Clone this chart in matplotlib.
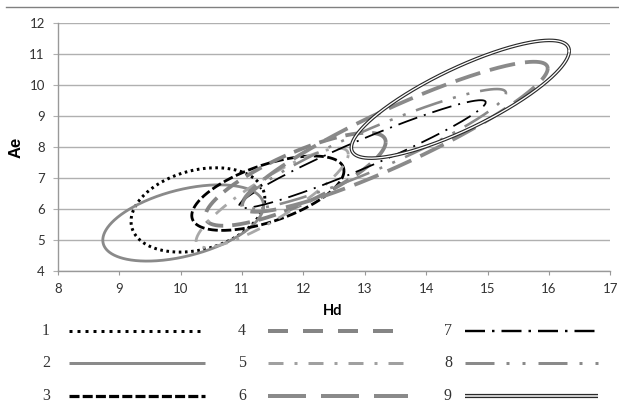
import numpy as np
import matplotlib
matplotlib.use('Agg')
import matplotlib.pyplot as plt
from matplotlib.lines import Line2D

plt.rcParams['lines.scale_dashes'] = False
plt.rcParams['font.family'] = ['Lato', 'DejaVu Sans']

# ellipse parameters: centre (Hd, Ae), half ranges and correlation
grupos = ['1', '2', '3', '4', '5', '6', '7', '8', '9']
centro_hd = [10.28, 10.04, 11.42, 11.87, 11.49, 13.49, 12.96, 13.15, 14.555]
centro_ae = [5.96, 5.54, 6.50, 6.95, 6.35, 8.32, 7.76, 7.93, 9.53]
rango_hd = [1.09, 1.31, 1.24, 1.47, 1.24, 2.49, 2.01, 2.15, 1.775]
rango_ae = [1.36, 1.23, 1.20, 1.50, 1.60, 2.42, 1.74, 1.93, 1.90]
correlacion = [0.27, 0.45, 0.60, 0.80, 0.875, 0.91, 0.96, 0.93, 0.82]

ticks_x = [8, 9, 10, 11, 12, 13, 14, 15, 16, 17]
ticks_y = [4, 5, 6, 7, 8, 9, 10, 11, 12]

PX = 0.72  # pixels -> points at 100 dpi


def d(*px):
    return (0, tuple(v * PX for v in px))


# line styles for each group (colour, width px, dash pattern px)
estilos = [
    dict(color='black', lw=3.0, ls=d(2.6, 3.6)),
    dict(color='#8a8a8a', lw=2.8, ls='-'),
    dict(color='black', lw=2.8, ls=d(10, 3.5)),
    dict(color='#858585', lw=3.8, ls=d(18, 9)),
    dict(color='#a8a8a8', lw=2.8, ls=d(14, 9, 3, 9)),
    dict(color='#8a8a8a', lw=3.8, ls=d(26, 10)),
    dict(color='black', lw=1.8, ls=d(20, 7, 2, 7)),
    dict(color='#8a8a8a', lw=2.6, ls=d(28, 11, 3, 11, 3, 11)),
    None,
]
estilos_leyenda = [
    dict(color='black', lw=3.0, ls=d(3.0, 5.0)),
    dict(color='#8a8a8a', lw=3.0, ls='-'),
    dict(color='black', lw=3.2, ls=d(10, 3.2)),
    dict(color='#858585', lw=4.0, ls=d(20, 15)),
    dict(color='#a0a0a0', lw=3.0, ls=d(15, 11, 3, 11)),
    dict(color='#8a8a8a', lw=4.0, ls=d(38, 15)),
    dict(color='black', lw=2.4, ls=d(20, 7, 2.5, 7)),
    dict(color='#8a8a8a', lw=3.0, ls=d(29, 12, 3, 13, 3, 13)),
    None,
]


def px_a_frac(x0, y0, x1, y1):
    return [x0 / 619, 1 - y1 / 404, (x1 - x0) / 619, (y1 - y0) / 404]


fig = plt.figure(figsize=(6.19, 4.04), dpi=100)
ax = fig.add_axes(px_a_frac(58, 22.7, 610.3, 270.7))

t = np.linspace(0, 2 * np.pi, 600)
for i in range(len(grupos)):
    r = correlacion[i]
    x = centro_hd[i] + rango_hd[i] * np.cos(t)
    y = centro_ae[i] + rango_ae[i] * (r * np.cos(t) + np.sqrt(1 - r * r) * np.sin(t))
    if estilos[i] is None:
        # double line
        ax.plot(x, y, color='#2a2a2a', lw=3.6 * PX, solid_capstyle='butt', zorder=5)
        ax.plot(x, y, color='white', lw=1.3 * PX, zorder=6)
    else:
        e = estilos[i]
        ax.plot(x, y, color=e['color'], lw=e['lw'] * PX, linestyle=e['ls'],
                dash_capstyle='butt', zorder=3 + i * 0.1)

ax.set_xlim(8, 17)
ax.set_ylim(4, 12)
ax.set_xticks(ticks_x)
ax.set_yticks(ticks_y)
ax.grid(axis='y', color='#b0b0b0', lw=1.0)
ax.set_axisbelow(True)
for s in ['top', 'right']:
    ax.spines[s].set_visible(False)
for s in ['left', 'bottom']:
    ax.spines[s].set_color('#999999')
    ax.spines[s].set_linewidth(1.0)
ax.tick_params(axis='x', direction='out', length=3, width=0.8, color='#999999',
               pad=5.5, labelsize=9.5, labelcolor='#333333')
ax.tick_params(axis='y', direction='out', length=3.5, width=0.8, color='#b0b0b0',
               pad=6, labelsize=9.5, labelcolor='#333333')

fig.text(16 / 619, 1 - 147 / 404, 'Ae', rotation=90, ha='center', va='center',
         fontsize=12, fontweight='bold', family=['Liberation Sans'])
fig.text(333 / 619, 1 - 311 / 404, 'Hd', ha='center', va='center',
         fontsize=10.5, fontweight='bold')

# thin rule at the very top
fig.add_artist(Line2D([6 / 619, 1], [1 - 7.3 / 404] * 2, color='#808080', lw=1.0))

# legend drawn in pixel coordinates
leg = fig.add_axes([0, 0, 1, 1], zorder=-1)
leg.set_xlim(0, 619)
leg.set_ylim(404, 0)
leg.axis('off')
filas = [331, 363, 396]
col_num = [46, 242, 448]
col_ini = [69, 268, 465]
col_fin = [205, 408, 598]
for i, g in enumerate(grupos):
    c, f = i // 3, i % 3
    yy = filas[f]
    leg.text(col_num[c], yy, g, ha='center', va='center', fontsize=11.5,
             color='#333333', family=['Liberation Serif'])
    e = estilos_leyenda[i]
    if e is None:
        leg.plot([col_ini[c], col_fin[c]], [yy, yy], color='#2a2a2a', lw=4.2 * PX,
                 solid_capstyle='butt')
        leg.plot([col_ini[c], col_fin[c]], [yy, yy], color='white', lw=1.5 * PX,
                 solid_capstyle='butt')
    else:
        leg.plot([col_ini[c], col_fin[c]], [yy, yy], color=e['color'], lw=e['lw'] * PX,
                 linestyle=e['ls'], dash_capstyle='butt', solid_capstyle='butt')

fig.savefig('out.png', dpi=100)
